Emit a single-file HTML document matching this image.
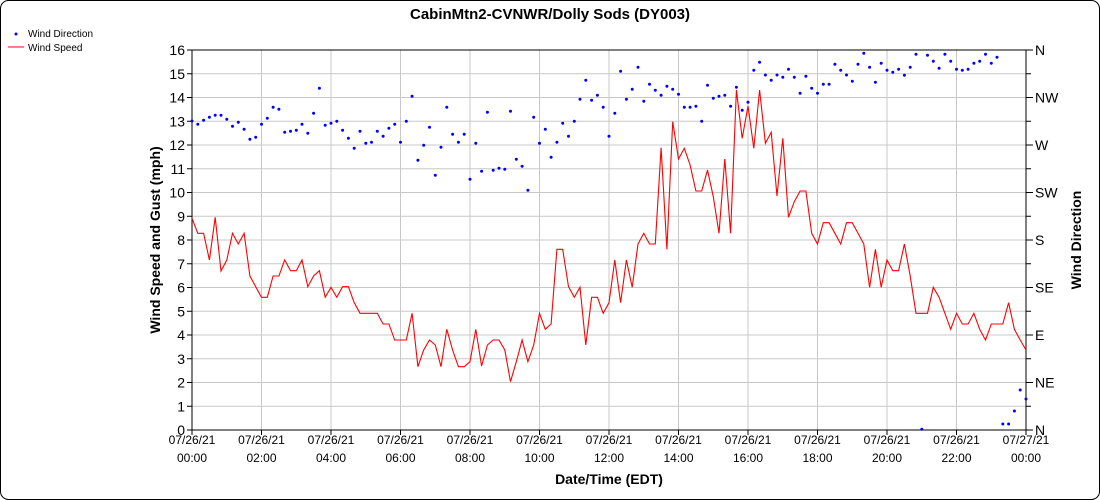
<!DOCTYPE html>
<html><head><meta charset="utf-8"><style>
body{margin:0;background:#fff;}
svg{display:block;font-family:"Liberation Sans",sans-serif;}
</style></head><body>
<svg id="s" width="1100" height="500" xmlns="http://www.w3.org/2000/svg">
<rect x="0.5" y="0.5" width="1099" height="499" rx="8" fill="#fff" stroke="#000"/>
<text x="550" y="19" text-anchor="middle" font-size="15" font-weight="bold">CabinMtn2-CVNWR/Dolly Sods (DY003)</text>
<circle cx="16" cy="34" r="1.5" fill="#00f"/>
<text x="28" y="37" font-size="10">Wind Direction</text>
<line x1="8" y1="47" x2="24" y2="47" stroke="#f00"/>
<text x="28" y="51" font-size="10">Wind Speed</text>
<g id="grid"></g>
<g id="data"></g>
<text transform="translate(160,240) rotate(-90)" text-anchor="middle" font-size="14" font-weight="bold">Wind Speed and Gust (mph)</text>
<text transform="translate(1081,240) rotate(-90)" text-anchor="middle" font-size="14" font-weight="bold">Wind Direction</text>
<text x="609" y="484" text-anchor="middle" font-size="14" font-weight="bold">Date/Time (EDT)</text>
</svg>
<script>
var L=192,R=1026,T=50,B=430,ns="http://www.w3.org/2000/svg";
var g=document.getElementById('grid'),d=document.getElementById('data');
function el(p,tag,a,txt){var e=document.createElementNS(ns,tag);for(var k in a)e.setAttribute(k,a[k]);if(txt!=null)e.textContent=txt;p.appendChild(e);return e;}
var dy=(B-T)/16;
for(var i=0;i<=16;i++){var y=T+i*dy;el(g,'line',{x1:L,x2:R,y1:y,y2:y,stroke:'#c8c8c8'});
 el(g,'line',{x1:L-5,x2:L,y1:y,y2:y,stroke:'#000'});
 el(g,'text',{x:L-7,y:y+5,'text-anchor':'end','font-size':14},String(16-i));
 el(g,'line',{x1:R,x2:R+5,y1:y,y2:y,stroke:'#000'});}
var dirs=['N','NW','W','SW','S','SE','E','NE','N'];
for(var i=0;i<9;i++){var y=T+i*2*dy;el(g,'line',{x1:R,x2:R+7,y1:y,y2:y,stroke:'#000'});el(g,'text',{x:R+9,y:y+5,'font-size':14},dirs[i]);}
var dx=(R-L)/12;
for(var k=0;k<=12;k++){var x=L+k*dx;el(g,'line',{x1:x,x2:x,y1:T,y2:B,stroke:'#c8c8c8'});el(g,'line',{x1:x,x2:x,y1:B,y2:B+5,stroke:'#000'});
 el(g,'text',{x:x,y:444,'text-anchor':'middle','font-size':12},k==12?'07/27/21':'07/26/21');
 var h=(k*2)%24;el(g,'text',{x:x,y:462,'text-anchor':'middle','font-size':12},(h<10?'0':'')+h+':00');}
el(g,'rect',{x:L,y:T,width:R-L,height:B-T,fill:'none',stroke:'#000'});
var sp=[535,580,580,660,532,693,660,580,612,580,708,740,772,772,708,708,660,692,692,660,740,708,692,772,742,772,740,740,788,820,820,820,820,852,852,900,900,900,820,980,930,900,915,980,868,930,980,980,
965,868,978,915,900,900,930,1025,965,900,965,915,820,868,852,628,628,740,772,742,915,772,772,820,788,660,788,660,742,612,580,612,612,323,628,245,357,325,375,453,453,390,470,580,357,580,150,295,198,325,150,310,
277,468,295,532,485,453,453,580,612,548,548,580,612,548,548,580,612,742,628,742,660,692,692,612,708,820,820,820,742,772,820,868,820,852,852,820,868,900,852,852,852,788,868,900,930];
var dr=[243,253,241,232,226,226,238,259,247,268,298,292,253,235,202,208,277,274,271,253,280,220,145,256,250,244,271,295,325,274,310,307,274,289,265,253,307,244,169,361,316,262,406,322,202,283,307,283,
418,310,394,217,391,385,388,214,358,379,451,232,310,268,352,307,250,289,244,178,121,181,166,202,289,220,94,178,148,82,184,133,151,166,139,148,163,202,202,199,244,136,175,169,166,199,142,211,187,91,67,105,
121,105,112,88,112,160,109,145,160,133,133,73,91,105,124,73,40,82,127,70,91,97,88,106,82,43,1168,46,64,85,43,64,88,91,88,70,64,43,70,52,1152,1152,1113,1050,1077];
var st=(R-L)/144,pts=[];
for(var i=0;i<sp.length;i++)pts.push((L+i*st).toFixed(1)+','+(40+sp[i]/3).toFixed(1));
el(d,'polyline',{points:pts.join(' '),fill:'none',stroke:'#f00','stroke-width':1.1});
for(var i=0;i<dr.length;i++)el(d,'circle',{cx:(L+i*st).toFixed(1),cy:(40+dr[i]/3).toFixed(1),r:1.5,fill:'#00f'});
</script>
</body></html>
